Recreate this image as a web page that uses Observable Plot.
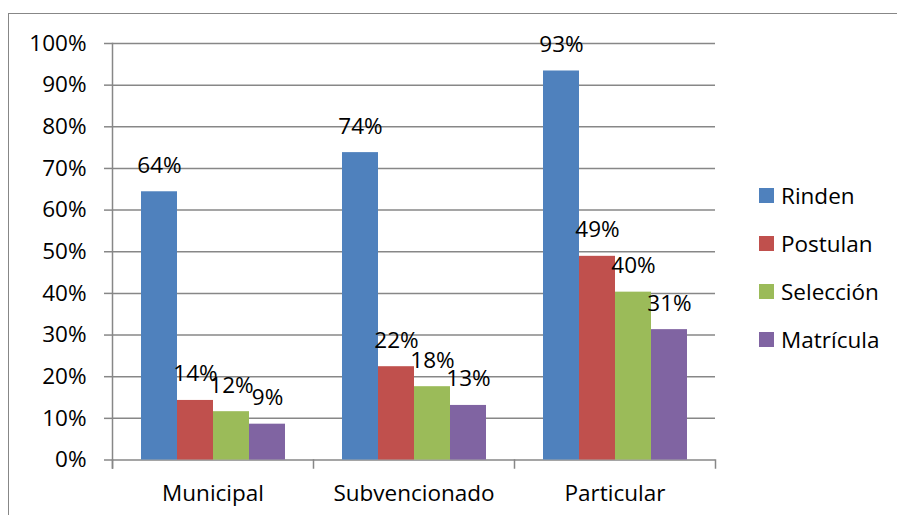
<!DOCTYPE html>
<html>
<head>
<meta charset="utf-8">
<script src="https://cdn.jsdelivr.net/npm/d3@7"></script>
<script src="https://cdn.jsdelivr.net/npm/@observablehq/plot@0.6"></script>
<style>
  html, body { margin: 0; padding: 0; background: #fff; }
  #wrap { position: relative; width: 897px; height: 515px; overflow: hidden; background: #fff; font-family: "Open Sans", sans-serif; }
  #border { position: absolute; left: 8px; top: 13px; width: 900px; height: 520px; border: 1.6px solid #878787; box-sizing: border-box; }
  #chart { position: absolute; left: 0; top: 0; }
  #legend { position: absolute; left: 759px; top: 171px; }
  .row { display: flex; align-items: center; height: 48px; font-size: 22.5px; color: #000; }
  .sw { width: 15px; height: 15px; margin-right: 7px; }
</style>
</head>
<body>
<div id="wrap">
  <div id="border"></div>
  <div id="chart"></div>
  <div id="legend"></div>
</div>
<script>
const categories = ["Municipal", "Subvencionado", "Particular"];
const series = ["Rinden", "Postulan", "Selección", "Matrícula"];
const colors = ["#4F81BD", "#C0504D", "#9BBB59", "#8064A2"];
const rinden = [0.644, 0.738, 0.934];
const postulan = [0.143, 0.224, 0.489];
const seleccion = [0.116, 0.176, 0.403];
const matricula = [0.086, 0.131, 0.313];
const yTicks = [0, 0.1, 0.2, 0.3, 0.4, 0.5, 0.6, 0.7, 0.8, 0.9, 1.0];

const seriesValues = [rinden, postulan, seleccion, matricula];
const data = [];
categories.forEach((c, ci) => {
  series.forEach((s, si) => {
    data.push({category: c, series: s, value: seriesValues[si][ci]});
  });
});
const fmt = d3.format(".0%");
const gray = "#878787";

const chart = Plot.plot({
  width: 897,
  height: 515,
  marginLeft: 111,
  marginRight: 181,
  marginTop: 43,
  marginBottom: 55.5,
  style: {fontFamily: "Open Sans", fontSize: "22.5px", color: "#000", background: "transparent", overflow: "visible"},
  fx: {domain: categories, padding: 0, label: null},
  x: {domain: series, paddingInner: 0, paddingOuter: 0.75, axis: null},
  y: {domain: [0, 1], label: null},
  color: {domain: series, range: colors},
  marks: [
    Plot.gridY(yTicks, {stroke: gray, strokeOpacity: 1, strokeWidth: 1.5}),
    Plot.barY(data, {fx: "category", x: "series", y: "value", fill: "series"}),
    Plot.text(data, {fx: "category", x: "series", y: "value", text: d => fmt(d.value), dy: -19, lineAnchor: "bottom", fontSize: 22.5, fill: "#000"}),
    Plot.axisY(yTicks, {tickFormat: fmt, tickSize: 8, tickPadding: 18, stroke: gray, strokeWidth: 1.5, strokeOpacity: 1, fontSize: 22.5, label: null}),
    Plot.axisFx({anchor: "bottom", tickSize: 0, tickPadding: 25, fontSize: 22.5, label: null}),
    Plot.frame({anchor: "left", stroke: gray, strokeWidth: 1.5, insetTop: 416.5, insetBottom: -8}),
    Plot.frame({anchor: "left", stroke: gray, strokeWidth: 1.5, insetBottom: -8, fx: () => "Municipal"}),
    Plot.frame({anchor: "right", stroke: gray, strokeWidth: 1.5, insetTop: 416.5, insetBottom: -8, fx: () => "Particular"})
  ]
});
document.getElementById("chart").appendChild(chart);

const legend = document.getElementById("legend");
series.forEach((s, i) => {
  const row = document.createElement("div");
  row.className = "row";
  const sw = document.createElement("div");
  sw.className = "sw";
  sw.style.background = colors[i];
  const t = document.createElement("span");
  t.textContent = s;
  row.appendChild(sw);
  row.appendChild(t);
  legend.appendChild(row);
});
</script>
</body>
</html>
